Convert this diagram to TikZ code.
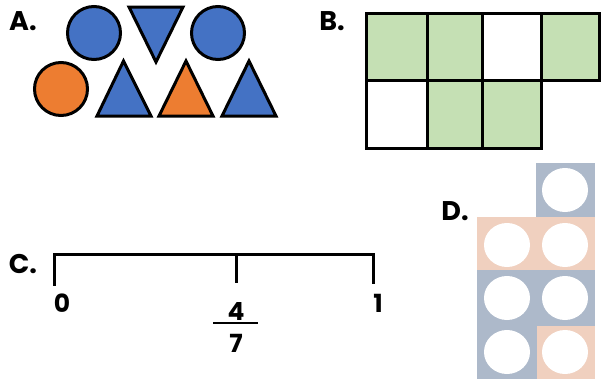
\documentclass[tikz,border=0pt]{standalone}
\usepackage{fontspec}
\setmainfont{Poppins}
\definecolor{sblue}{HTML}{4472C4}
\definecolor{sorange}{HTML}{ED7D31}
\definecolor{sgreen}{HTML}{C5E0B4}
\definecolor{dblue}{HTML}{ADB9CA}
\definecolor{dpeach}{HTML}{F0D0BF}
\begin{document}
\begin{tikzpicture}[x=1pt,y=-1pt,
  lbl/.style={font=\fontsize{27}{27}\selectfont\bfseries, inner sep=0pt},
  num/.style={font=\fontsize{25}{25}\selectfont\bfseries, inner sep=0pt},
  shp/.style={draw=black, line width=3pt, line join=miter},
  cell/.style={draw=black, line width=3pt},
  hole/.style={fill=white, draw=none}]
\useasboundingbox (0,0) rectangle (601,383);
% A
\node[lbl] (la) at (23,21) {A.};
\draw[shp, fill=sblue] (94,33) circle (26.5);
\draw[shp, fill=sblue] (129,7) -- (183,7) -- (156,62) -- cycle;
\draw[shp, fill=sblue] (218,33) circle (26.5);
\draw[shp, fill=sorange] (61,89) circle (26.5);
\draw[shp, fill=sblue] (97,116) -- (151,116) -- (123.5,61) -- cycle;
\draw[shp, fill=sorange] (159,116) -- (213,116) -- (186,61) -- cycle;
\draw[shp, fill=sblue] (222,116) -- (276,116) -- (249,61) -- cycle;
% B
\node[lbl] (lb) at (332,21) {B.};
\fill[sgreen] (366,13) rectangle (427,80);
\fill[sgreen] (427,13) rectangle (482,80);
\fill[sgreen] (541,13) rectangle (599,80);
\fill[sgreen] (427,80) rectangle (482,148);
\fill[sgreen] (482,80) rectangle (541,148);
\draw[cell] (366,13) rectangle (599,80);
\draw[cell] (366,80) rectangle (541,148);
\draw[cell] (427,13) -- (427,148);
\draw[cell] (482,13) -- (482,148);
\draw[cell] (541,13) -- (541,80);
% C
\node[lbl] (lc) at (23,264) {C.};
\coordinate (c0) at (54,254);
\coordinate (cm) at (236,254);
\coordinate (c1) at (373,254);
\draw[line width=3pt, line cap=butt] ([yshift=-1.5pt]c0) ++(0,30) -- (c0) -- (c1) -- ++(0,30);
\draw[line width=3pt] (cm) -- ++(0,29);
\node[num] (n0) at (62,303) {0};
\node[num] (n4) at (236,311) {4};
\node[num] (n7) at (236,343) {7};
\draw[line width=2.5pt] (213,323) -- (258,323);
\node[num] (n1) at (378,303) {1};
% D
\node[lbl] (ld) at (455,211) {D.};
\fill[dblue] (536,163) rectangle (595,217);
\fill[dpeach] (477,217) rectangle (595,270);
\fill[dblue] (477,270) rectangle (595,326);
\fill[dblue] (477,326) rectangle (537,379);
\fill[dpeach] (537,326) rectangle (595,379);
\foreach \cx/\cy in {565/190, 507/245, 565/245, 507/298, 565/298, 507/352, 565/352}
  \fill[white] (\cx,\cy) ellipse (23 and 22);
\end{tikzpicture}
\end{document}
